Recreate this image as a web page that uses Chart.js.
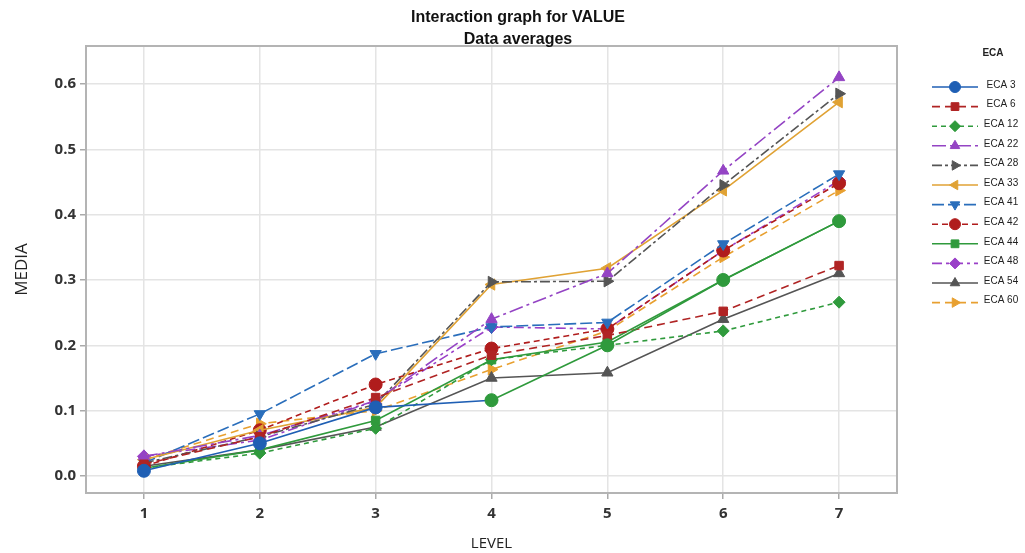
<!DOCTYPE html>
<html>
<head>
<meta charset="utf-8">
<script src="https://cdn.jsdelivr.net/npm/chart.js@4.4.1/dist/chart.umd.min.js"></script>
<style>
  html, body { margin: 0; padding: 0; background: #ffffff; }
  #wrap { width: 1025px; height: 553px; position: relative; }
</style>
</head>
<body>
<div id="wrap"><canvas id="c" width="1025" height="553"></canvas></div>
<script>
// ---- data ----
const levels = ['1', '2', '3', '4', '5', '6', '7'];
const yTickValues = [0.0, 0.1, 0.2, 0.3, 0.4, 0.5, 0.6];
const seriesNames = ['ECA 3', 'ECA 6', 'ECA 12', 'ECA 22', 'ECA 28', 'ECA 33', 'ECA 41', 'ECA 42', 'ECA 44', 'ECA 48', 'ECA 54', 'ECA 60'];

const eca3  = [0.008, 0.050, 0.105, 0.116, 0.200, 0.300, 0.390];
const eca6  = [0.018, 0.060, 0.120, 0.185, 0.215, 0.252, 0.322];
const eca12 = [0.012, 0.035, 0.073, 0.178, 0.200, 0.222, 0.266];
const eca22 = [0.030, 0.062, 0.115, 0.240, 0.310, 0.467, 0.610];
const eca28 = [0.020, 0.060, 0.110, 0.297, 0.298, 0.445, 0.585];
const eca33 = [0.025, 0.070, 0.105, 0.293, 0.318, 0.437, 0.572];
const eca41 = [0.020, 0.095, 0.187, 0.228, 0.235, 0.355, 0.462];
const eca42 = [0.015, 0.070, 0.140, 0.195, 0.225, 0.345, 0.448];
const eca44 = [0.012, 0.040, 0.085, 0.178, 0.205, 0.300, 0.390];
const eca48 = [0.030, 0.055, 0.115, 0.228, 0.225, 0.345, 0.452];
const eca54 = [0.015, 0.040, 0.075, 0.150, 0.158, 0.240, 0.310];
const eca60 = [0.025, 0.080, 0.100, 0.163, 0.222, 0.335, 0.437];

const seriesValues = [eca3, eca6, eca12, eca22, eca28, eca33, eca41, eca42, eca44, eca48, eca54, eca60];

// ---- styles ----
const styles = [
  { color: '#1f5fb4', dash: [],            point: 'circle',   rot: 0,   r: 6.5, tail: '#2f9a3c', tailFrom: 3 },
  { color: '#b02424', dash: [8, 5],        point: 'rect',     rot: 0,   r: 6 },
  { color: '#2f9a3c', dash: [5, 4],        point: 'rectRot',  rot: 0,   r: 6 },
  { color: '#9444c4', dash: [14, 4, 3, 4], point: 'triangle', rot: 0,   r: 6.5 },
  { color: '#555555', dash: [10, 3, 3, 3], point: 'triangle', rot: 90,  r: 6.5 },
  { color: '#e0a234', dash: [],            point: 'triangle', rot: -90, r: 6.5 },
  { color: '#2a6ebb', dash: [12, 4],       point: 'triangle', rot: 180, r: 6.5 },
  { color: '#b01c1c', dash: [6, 4],        point: 'circle',   rot: 0,   r: 6.5 },
  { color: '#2f9a3c', dash: [],            point: 'rect',     rot: 0,   r: 6 },
  { color: '#9a40c8', dash: [10, 4, 3, 4], point: 'rectRot',  rot: 0,   r: 6.5 },
  { color: '#555555', dash: [],            point: 'triangle', rot: 0,   r: 6.5 },
  { color: '#e8a030', dash: [8, 5],        point: 'triangle', rot: 90,  r: 6.5 }
];

const datasets = seriesNames.map((name, i) => {
  const s = styles[i];
  const pc = s.tail ? (ctx) => (ctx.dataIndex >= s.tailFrom ? s.tail : s.color) : s.color;
  return {
    label: name,
    data: seriesValues[i],
    borderColor: s.color,
    backgroundColor: s.color,
    borderWidth: 1.6,
    borderDash: s.dash,
    pointStyle: s.point,
    pointRotation: s.rot,
    pointRadius: s.r,
    pointBorderWidth: 1,
    pointBackgroundColor: pc,
    pointBorderColor: pc,
    segment: s.tail ? { borderColor: (ctx) => (ctx.p0DataIndex >= s.tailFrom ? s.tail : undefined) } : undefined,
    tension: 0,
    fill: false
  };
});

const fontFam = "'Liberation Sans Narrow', 'Liberation Sans', Arial, sans-serif";
const tickFont = "'Open Sans', 'DejaVu Sans', sans-serif";

// title, custom legend, plot border
const extras = {
  id: 'extras',
  beforeDatasetsDraw(chart) {
    const { ctx, chartArea: a } = chart;
    ctx.save();
    ctx.strokeStyle = '#b4b4b4';
    ctx.lineWidth = 2;
    ctx.strokeRect(a.left, a.top, a.right - a.left, a.bottom - a.top);
    ctx.restore();
  },
  afterDraw(chart) {
    const { ctx } = chart;
    ctx.save();
    ctx.fillStyle = '#111';
    ctx.textAlign = 'center';
    ctx.textBaseline = 'middle';
    ctx.font = "bold 16px " + fontFam;
    ctx.fillText('Interaction graph for VALUE', 518, 18);
    ctx.fillText('Data averages', 518, 40);

    ctx.fillStyle = '#222';
    ctx.font = "bold 10px " + fontFam;
    ctx.fillText('ECA', 993, 53);
    chart.data.datasets.forEach((ds, i) => {
      const y = 87 + i * 19.6;
      ctx.save();
      ctx.strokeStyle = ds.borderColor;
      ctx.lineWidth = 1.6;
      ctx.setLineDash(ds.borderDash);
      ctx.beginPath();
      ctx.moveTo(932, y);
      ctx.lineTo(978, y);
      ctx.stroke();
      ctx.setLineDash([]);
      ctx.fillStyle = ds.borderColor;
      ctx.strokeStyle = ds.borderColor;
      ctx.lineWidth = 1;
      Chart.helpers.drawPoint(ctx, { pointStyle: ds.pointStyle, rotation: ds.pointRotation, radius: 5.5, borderWidth: 1 }, 955, y);
      ctx.restore();
      ctx.fillStyle = '#222';
      ctx.font = "10px " + fontFam;
      ctx.textAlign = 'center';
      ctx.fillText(ds.label, 1001, y - 2);
    });
    ctx.restore();
  }
};

new Chart(document.getElementById('c'), {
  type: 'line',
  data: { labels: levels, datasets: datasets },
  plugins: [extras],
  options: {
    responsive: false,
    animation: false,
    devicePixelRatio: 1,
    layout: { padding: { left: 0, right: 128, top: 46, bottom: 0 } },
    plugins: {
      legend: { display: false },
      tooltip: { enabled: false },
      title: { display: false }
    },
    scales: {
      x: {
        type: 'category',
        offset: true,
        grid: { color: '#e4e4e4', lineWidth: 1.5, offset: false, tickLength: 6, tickColor: '#aaaaaa', drawTicks: true },
        border: { display: false },
        ticks: { color: '#333', padding: 6, font: { family: tickFont, size: 15, weight: 'bold' } },
        title: { display: true, text: 'LEVEL', color: '#222', font: { family: tickFont, size: 15 }, padding: { top: 0, bottom: 0 } },
        afterFit(scale) { scale.height = 60; }
      },
      y: {
        type: 'linear',
        min: -0.026,
        max: 0.658,
        afterBuildTicks(scale) { scale.ticks = yTickValues.map(v => ({ value: v })); },
        grid: { color: '#e4e4e4', lineWidth: 1.5, tickLength: 6, tickColor: '#aaaaaa' },
        border: { display: false },
        ticks: {
          color: '#333', padding: 4,
          font: { family: tickFont, size: 15, weight: 'bold' },
          callback: (v) => Number(v).toFixed(1)
        },
        title: { display: true, text: 'MEDIA', color: '#222', font: { family: tickFont, size: 17 }, padding: { top: 12, bottom: 0 } },
        afterFit(scale) { scale.width = 86; }
      }
    }
  }
});
</script>
</body>
</html>
